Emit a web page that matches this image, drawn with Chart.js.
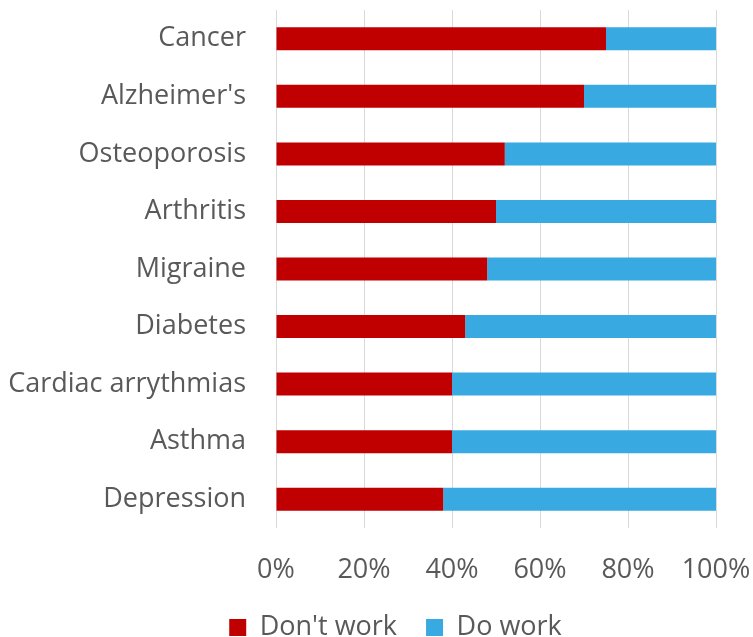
<!DOCTYPE html>
<html>
<head>
<meta charset="utf-8">
<script src="https://cdn.jsdelivr.net/npm/chart.js@4/dist/chart.umd.min.js"></script>
<style>
html,body{margin:0;padding:0;background:#fff;}
#wrap{width:753px;height:637px;}
</style>
</head>
<body>
<div id="wrap"><canvas id="c" width="753" height="637"></canvas></div>
<script>
const categories = ["Cancer","Alzheimer's","Osteoporosis","Arthritis","Migraine","Diabetes","Cardiac arrythmias","Asthma","Depression"];
const dontWork = [75,70,52,50,48,43,40,40,38];
const doWork = [25,30,48,50,52,57,60,60,62];
const xTicks = [0,20,40,60,80,100];

const FONT = "'Open Sans', sans-serif";
const FSIZE = 27;
const TXT = '#595959';

const legendShift = {
  id: 'legendShift',
  beforeDraw(chart) {
    if (chart.legend) { chart.legend.left = 75; }
  }
};

new Chart(document.getElementById('c'), {
  type: 'bar',
  data: {
    labels: categories,
    datasets: [
      {label: "Don't work", data: dontWork, backgroundColor: '#C00000', borderWidth: 0, categoryPercentage: 0.8, barPercentage: 0.5},
      {label: "Do work", data: doWork, backgroundColor: '#39AAE1', borderWidth: 0, categoryPercentage: 0.8, barPercentage: 0.5}
    ]
  },
  plugins: [legendShift],
  options: {
    indexAxis: 'y',
    responsive: false,
    animation: false,
    devicePixelRatio: 1,
    layout: {padding: {top: 10, left: 0, right: 37, bottom: -14}},
    plugins: {
      tooltip: {enabled: false},
      legend: {
        position: 'bottom',
        labels: {
          boxWidth: 17, boxHeight: 17, padding: 29,
          color: TXT,
          font: {family: FONT, size: FSIZE}
        }
      }
    },
    scales: {
      x: {
        stacked: true,
        min: 0, max: 100,
        afterBuildTicks: (s) => { s.ticks = xTicks.map(v => ({value: v})); },
        afterFit: (s) => { s.height = 57; s.paddingLeft = 0; s.paddingRight = 0; },
        grid: {color: '#d9d9d9', lineWidth: 1, drawTicks: false},
        border: {display: false},
        ticks: {color: TXT, font: {family: FONT, size: FSIZE}, padding: 26, maxRotation: 0, callback: (v) => v + '%'}
      },
      y: {
        stacked: true,
        afterFit: (s) => { s.width = 276; s.paddingTop = 0; s.paddingBottom = 0; },
        grid: {display: false, drawTicks: false},
        border: {display: false},
        ticks: {color: TXT, font: {family: FONT, size: FSIZE}, padding: 30}
      }
    }
  }
});
</script>
</body>
</html>
